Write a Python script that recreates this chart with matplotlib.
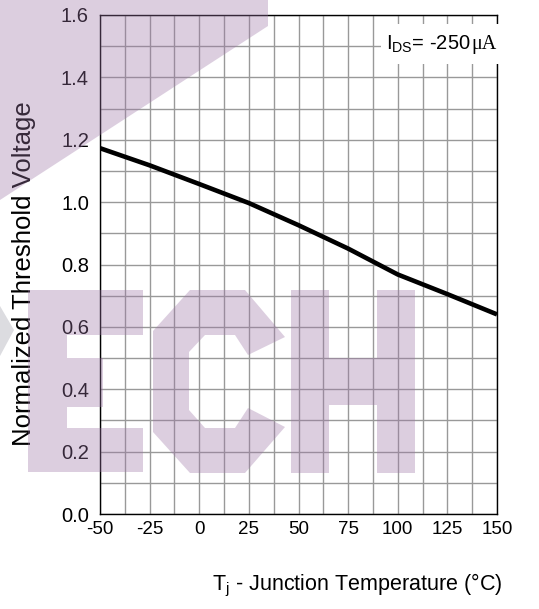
import matplotlib
matplotlib.use("Agg")
import matplotlib.pyplot as plt
from matplotlib.patches import Polygon, Rectangle
from matplotlib.ticker import MultipleLocator

# Normalized threshold voltage vs junction temperature
temp_c = [-50, -25, 0, 25, 50, 75, 100, 125, 150]
vth_norm = [1.173, 1.118, 1.058, 0.997, 0.926, 0.851, 0.768, 0.705, 0.640]

x_ticks = [-50, -25, 0, 25, 50, 75, 100, 125, 150]
y_ticks = [0.0, 0.2, 0.4, 0.6, 0.8, 1.0, 1.2, 1.4, 1.6]

W, H = 539, 609
plt.rcParams['font.family'] = ['Liberation Sans', 'DejaVu Sans']
plt.rcParams['mathtext.fontset'] = 'custom'
plt.rcParams['mathtext.rm'] = 'Liberation Sans'
plt.rcParams['axes.unicode_minus'] = False

fig = plt.figure(figsize=(W / 100, H / 100), dpi=100)
ax = fig.add_axes([100 / W, 1 - 514 / H, 397 / W, 499 / H])

ax.plot(temp_c, vth_norm, color='black', lw=3.3, solid_capstyle='butt', zorder=3)

ax.set_xlim(-50, 150)
ax.set_ylim(0, 1.6)
ax.set_xticks(x_ticks)
ax.set_yticks(y_ticks)
ax.set_yticklabels([f"{v:.1f}" for v in y_ticks])
ax.xaxis.set_minor_locator(MultipleLocator(12.5))
ax.yaxis.set_minor_locator(MultipleLocator(0.1))
ax.grid(True, which='both', color='#999999', lw=1.0, zorder=1)
ax.set_axisbelow(True)
ax.tick_params(which='both', length=0, colors='black')
ax.tick_params(axis='y', pad=8, labelsize=14.5)
ax.tick_params(axis='x', pad=5, labelsize=13.5)
for s in ax.spines.values():
    s.set_color('black')
    s.set_linewidth(1.0)

# current annotation with a white patch behind it
fig.add_artist(Rectangle((381 / W, 1 - 64 / H), 120 / W, 40 / H, facecolor='white',
                         edgecolor='none', transform=fig.transFigure, zorder=2))
t1 = fig.text(386 / W, 1 - 44 / H, r"I$_\mathregular{DS}$= -250", ha='left',
              va='center', fontsize=14.5, zorder=3)
fig.canvas.draw()
bb = t1.get_window_extent()
fig.text(bb.x1 / W + 0.001, 1 - 44 / H, "\u03bcA", ha='left', va='center',
         fontsize=14.5, family='Liberation Serif', zorder=3)

fig.text(24 / W, 1 - 274 / H, "Normalized Threshold Voltage", rotation=90,
         ha='center', va='center', fontsize=18.5)
fig.text(357 / W, 1 - 585 / H, r"T$_\mathregular{j}$ - Junction Temperature (°C)",
         ha='center', va='center', fontsize=15.5)


# watermark shapes (pixel coordinates, y from top)
def px(pts):
    return [(x / W, 1 - y / H) for x, y in pts]


wm = dict(facecolor=(0.61, 0.46, 0.65), edgecolor='none', alpha=0.35,
          transform=fig.transFigure, zorder=10)
shapes = [
    [(0, 0), (268, 0), (268, 26), (0, 200)],
    # E
    [(28, 290), (143, 290), (143, 335), (67, 335), (67, 358), (103, 358),
     (103, 407), (67, 407), (67, 428), (143, 428), (143, 472), (28, 472)],
    # C
    [(190, 290), (245, 290), (285, 337), (248, 355), (235, 335), (205, 335),
     (189, 352), (189, 410), (205, 428), (235, 428), (248, 408), (285, 427),
     (245, 473), (190, 473), (153, 432), (153, 331)],
    # H
    [(291, 290), (329, 290), (329, 358), (377, 358), (377, 290), (415, 290),
     (415, 473), (377, 473), (377, 405), (329, 405), (329, 473), (291, 473)],
]
for pts in shapes:
    fig.add_artist(Polygon(px(pts), closed=True, **wm))
fig.add_artist(Polygon(px([(0, 306), (14, 330), (0, 356)]), closed=True,
                       facecolor='#dcdce0', edgecolor='none',
                       transform=fig.transFigure, zorder=0.5))

fig.savefig("out.png", dpi=100)
